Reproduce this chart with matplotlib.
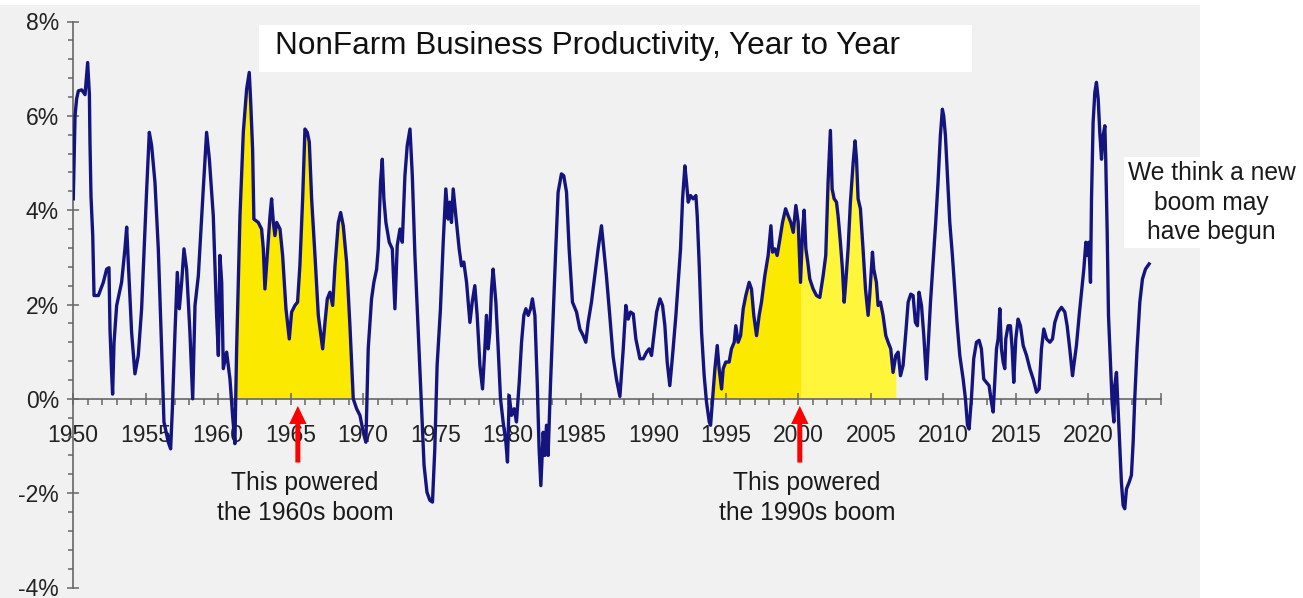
import matplotlib
matplotlib.use("Agg")
import matplotlib.pyplot as plt
from matplotlib import font_manager
from matplotlib.patches import Rectangle
from matplotlib.ticker import MultipleLocator, FuncFormatter
import numpy as np

# quarterly-ish readings of y/y nonfarm business productivity (%)
years = np.array([
    1950.02, 1950.14, 1950.25, 1950.37, 1950.6, 1950.83, 1951.01, 1951.13, 1951.17, 1951.24,
    1951.36, 1951.45, 1951.75, 1952.09, 1952.32, 1952.48, 1952.55, 1952.66, 1952.73, 1952.83,
    1953.01, 1953.35, 1953.58, 1953.70, 1953.81, 1954.04, 1954.27, 1954.50, 1954.73, 1955.08,
    1955.26, 1955.42, 1955.65, 1955.88, 1956.11, 1956.27, 1956.57, 1956.73, 1956.85, 1957.03,
    1957.19, 1957.33, 1957.49, 1957.65, 1957.83, 1958.06, 1958.25, 1958.41, 1958.64, 1958.98,
    1959.21, 1959.40, 1959.67, 1959.90, 1960.02, 1960.13, 1960.25, 1960.36, 1960.59, 1960.82,
    1961.00, 1961.16, 1961.28, 1961.51, 1961.74, 1961.97, 1962.15, 1962.24, 1962.38, 1962.47,
    1962.77, 1963.00, 1963.12, 1963.23, 1963.39, 1963.58, 1963.69, 1963.81, 1963.92, 1964.04,
    1964.27, 1964.45, 1964.68, 1964.91, 1965.07, 1965.30, 1965.48, 1965.64, 1965.83, 1965.99,
    1966.15, 1966.29, 1966.45, 1966.68, 1966.91, 1967.21, 1967.37, 1967.53, 1967.71, 1967.90,
    1968.06, 1968.29, 1968.45, 1968.63, 1968.86, 1969.09, 1969.32, 1969.55, 1969.78, 1970.01,
    1970.19, 1970.35, 1970.58, 1970.74, 1970.93, 1971.04, 1971.20, 1971.32, 1971.43, 1971.57,
    1971.80, 1972.01, 1972.19, 1972.35, 1972.54, 1972.70, 1972.88, 1973.04, 1973.23, 1973.39,
    1973.57, 1973.80, 1974.00, 1974.20, 1974.40, 1974.60, 1974.78, 1974.94, 1975.10, 1975.33,
    1975.52, 1975.70, 1975.86, 1975.98, 1976.09, 1976.21, 1976.39, 1976.62, 1976.78, 1976.94,
    1977.13, 1977.36, 1977.52, 1977.70, 1977.86, 1978.05, 1978.23, 1978.39, 1978.50, 1978.62,
    1978.73, 1978.85, 1978.96, 1979.15, 1979.31, 1979.47, 1979.65, 1979.84, 1979.95, 1980.07,
    1980.23, 1980.41, 1980.57, 1980.76, 1980.92, 1981.08, 1981.22, 1981.38, 1981.54, 1981.67,
    1981.84, 1982.00, 1982.13, 1982.25, 1982.41, 1982.52, 1982.64, 1982.75, 1982.92, 1983.10,
    1983.28, 1983.44, 1983.67, 1983.83, 1984.02, 1984.20, 1984.43, 1984.71, 1984.94, 1985.17,
    1985.35, 1985.51, 1985.74, 1985.97, 1986.20, 1986.43, 1986.59, 1986.77, 1987.00, 1987.23,
    1987.46, 1987.70, 1987.93, 1988.11, 1988.27, 1988.43, 1988.62, 1988.80, 1989.08, 1989.31,
    1989.54, 1989.72, 1989.88, 1990.04, 1990.23, 1990.46, 1990.64, 1990.80, 1990.96, 1991.14,
    1991.33, 1991.56, 1991.72, 1991.88, 1992.02, 1992.18, 1992.29, 1992.41, 1992.57, 1992.75,
    1992.94, 1993.03, 1993.17, 1993.33, 1993.51, 1993.67, 1993.86, 1993.95, 1994.09, 1994.25,
    1994.41, 1994.54, 1994.71, 1994.82, 1995.00, 1995.23, 1995.39, 1995.58, 1995.69, 1995.85,
    1996.02, 1996.20, 1996.38, 1996.61, 1996.77, 1996.93, 1997.12, 1997.30, 1997.46, 1997.69,
    1997.92, 1998.11, 1998.22, 1998.38, 1998.54, 1998.73, 1998.91, 1999.12, 1999.30, 1999.48,
    1999.65, 1999.83, 1999.99, 2000.15, 2000.30, 2000.40, 2000.52, 2000.65, 2000.79, 2001.02,
    2001.25, 2001.48, 2001.71, 2001.89, 2002.05, 2002.21, 2002.33, 2002.47, 2002.63, 2002.74,
    2002.90, 2003.04, 2003.16, 2003.27, 2003.43, 2003.59, 2003.78, 2003.91, 2004.01, 2004.12,
    2004.28, 2004.46, 2004.63, 2004.81, 2004.92, 2005.11, 2005.20, 2005.38, 2005.50, 2005.66,
    2005.84, 2006.03, 2006.19, 2006.37, 2006.53, 2006.72, 2006.88, 2007.04, 2007.22, 2007.41,
    2007.57, 2007.75, 2007.91, 2008.07, 2008.21, 2008.32, 2008.49, 2008.65, 2008.83, 2008.94,
    2009.11, 2009.29, 2009.47, 2009.63, 2009.79, 2009.93, 2010.02, 2010.14, 2010.28, 2010.44,
    2010.62, 2010.78, 2010.94, 2011.13, 2011.36, 2011.52, 2011.66, 2011.77, 2011.93, 2012.09,
    2012.28, 2012.46, 2012.62, 2012.78, 2012.96, 2013.15, 2013.31, 2013.43, 2013.54, 2013.66,
    2013.77, 2013.89, 2014.00, 2014.12, 2014.23, 2014.30, 2014.46, 2014.62, 2014.74, 2014.85,
    2014.99, 2015.15, 2015.31, 2015.50, 2015.73, 2015.96, 2016.19, 2016.42, 2016.60, 2016.76,
    2016.92, 2017.11, 2017.34, 2017.52, 2017.68, 2017.91, 2018.14, 2018.37, 2018.53, 2018.71,
    2018.90, 2018.99, 2019.17, 2019.36, 2019.52, 2019.68, 2019.82, 2019.91, 2020.02, 2020.14,
    2020.21, 2020.32, 2020.44, 2020.55, 2020.67, 2020.78, 2020.90, 2021.01, 2021.13, 2021.19,
    2021.29, 2021.38, 2021.52, 2021.63, 2021.75, 2021.81, 2021.93, 2022.04, 2022.16, 2022.27,
    2022.39, 2022.50, 2022.62, 2022.80, 2022.96, 2023.08, 2023.19, 2023.35, 2023.54, 2023.72,
    2023.93, 2024.18])

productivity = np.array([
    4.24, 6.00, 6.36, 6.53, 6.55, 6.45, 7.13, 6.45, 5.44, 4.30,
    3.46, 2.19, 2.19, 2.47, 2.75, 2.78, 1.48, 0.56, 0.10, 1.20,
    1.98, 2.47, 3.18, 3.64, 2.90, 1.41, 0.53, 0.92, 1.91, 4.45,
    5.65, 5.37, 4.59, 3.18, 1.06, -0.49, -0.92, -1.06, -0.21, 1.41,
    2.68, 1.91, 2.47, 3.18, 2.75, 1.41, 0.00, 1.98, 2.61, 4.45,
    5.65, 5.08, 3.88, 1.77, 0.92, 3.04, 2.47, 0.64, 0.99, 0.42,
    -0.35, -0.95, 1.06, 3.88, 5.65, 6.57, 6.92, 6.36, 5.30, 3.81,
    3.74, 3.60, 3.18, 2.33, 3.04, 3.88, 4.24, 3.74, 3.46, 3.74,
    3.60, 3.04, 1.91, 1.27, 1.84, 1.98, 2.05, 2.82, 4.24, 5.72,
    5.65, 5.44, 4.24, 3.04, 1.77, 1.06, 1.62, 2.12, 2.26, 1.98,
    2.82, 3.74, 3.95, 3.67, 2.90, 1.55, 0.00, -0.21, -0.35, -0.71,
    -0.92, 1.06, 2.12, 2.47, 2.75, 3.18, 4.59, 5.08, 4.24, 3.74,
    3.32, 3.18, 1.91, 3.25, 3.60, 3.32, 4.73, 5.37, 5.72, 4.73,
    3.04, 1.41, 0.00, -1.41, -1.98, -2.15, -2.19, -1.06, 0.71, 1.91,
    3.32, 4.45, 3.81, 4.17, 3.74, 4.45, 3.88, 3.18, 2.82, 2.90,
    2.47, 1.62, 2.05, 2.40, 1.77, 0.71, 0.21, 1.06, 1.77, 1.06,
    1.41, 2.33, 2.75, 2.05, 1.06, 0.00, -0.49, -0.92, -1.34, 0.07,
    -0.35, -0.21, -0.49, 0.35, 1.20, 1.77, 1.91, 1.77, 1.91, 2.12,
    1.77, 0.35, -1.06, -1.84, -0.71, -1.20, -0.56, -1.20, 0.35, 1.77,
    3.18, 4.38, 4.77, 4.73, 4.38, 3.18, 2.05, 1.84, 1.48, 1.34,
    1.20, 1.62, 2.05, 2.61, 3.18, 3.67, 3.18, 2.61, 1.77, 0.90,
    0.42, 0.05, 1.06, 1.98, 1.69, 1.84, 1.80, 1.27, 0.85, 0.85,
    0.99, 1.06, 0.92, 1.34, 1.84, 2.12, 1.98, 1.55, 0.78, 0.28,
    0.92, 1.77, 2.47, 3.18, 4.24, 4.94, 4.59, 4.17, 4.31, 4.24,
    4.31, 3.88, 2.82, 1.41, 0.49, -0.07, -0.49, -0.56, 0.00, 0.64,
    1.13, 0.64, 0.21, 0.64, 0.78, 0.78, 1.06, 1.20, 1.55, 1.20,
    1.34, 1.91, 2.19, 2.47, 2.33, 1.77, 1.34, 1.77, 2.05, 2.61,
    3.04, 3.67, 3.11, 3.18, 3.04, 3.39, 3.74, 4.03, 3.88, 3.74,
    3.53, 4.10, 3.74, 2.47, 3.60, 4.00, 3.18, 2.90, 2.54, 2.33,
    2.19, 2.15, 2.61, 3.04, 4.59, 5.69, 4.45, 4.24, 4.17, 3.88,
    3.32, 2.75, 2.05, 2.47, 3.18, 4.17, 5.01, 5.47, 5.08, 4.24,
    4.03, 3.18, 2.33, 1.77, 2.19, 3.11, 2.75, 2.47, 1.98, 2.05,
    1.77, 1.34, 1.20, 1.06, 0.56, 0.92, 0.99, 0.49, 0.71, 1.41,
    2.05, 2.22, 2.19, 1.62, 1.55, 2.26, 1.98, 1.34, 0.42, 1.06,
    2.05, 2.90, 3.74, 4.59, 5.58, 6.14, 6.00, 5.58, 4.73, 3.74,
    3.04, 2.33, 1.62, 0.92, 0.42, 0.00, -0.56, -0.64, 0.00, 0.85,
    1.20, 1.24, 1.06, 0.42, 0.35, 0.28, -0.07, -0.28, 0.35, 1.06,
    1.27, 1.91, 1.06, 0.78, 0.64, 1.27, 1.55, 1.55, 1.06, 0.35,
    1.27, 1.69, 1.55, 1.13, 0.92, 0.64, 0.42, 0.14, 0.21, 1.06,
    1.48, 1.27, 1.20, 1.27, 1.62, 1.84, 1.94, 1.84, 1.55, 1.06,
    0.49, 0.71, 1.13, 1.77, 2.26, 2.75, 3.32, 3.04, 3.32, 2.47,
    4.24, 5.86, 6.50, 6.71, 6.36, 5.65, 5.08, 5.58, 5.79, 5.08,
    3.53, 1.77, 0.71, -0.07, -0.49, 0.28, 0.56, -0.21, -1.06, -1.77,
    -2.26, -2.33, -1.91, -1.77, -1.62, -0.92, 0.00, 1.06, 2.05, 2.54,
    2.75, 2.86])

year_labels = [1950, 1955, 1960, 1965, 1970, 1975, 1980, 1985, 1990, 1995,
               2000, 2005, 2010, 2015, 2020]

boom_60s = (1961.1, 1969.4)
boom_90s = (1994.0, 2000.15)
boom_00s = (2000.15, 2006.8)
arrow_years = [1965.5, 2000.1]
arrow_notes = ["This powered\nthe 1960s boom", "This powered\nthe 1990s boom"]
note_years = [1966.0, 2000.6]

title = "NonFarm Business Productivity, Year to Year"
side_note = "We think a new\nboom may\nhave begun"

installed = {f.name for f in font_manager.fontManager.ttflist}
title_font = "Liberation Sans Narrow" if "Liberation Sans Narrow" in installed else "Liberation Sans"
plt.rcParams["font.family"] = ["Liberation Sans", "DejaVu Sans"]

W, H = 1303, 598
fig = plt.figure(figsize=(W / 100, H / 100), dpi=100)
fig.patch.set_facecolor("white")

# grey chart area behind the plot
fig.patches.append(Rectangle((0, 0), 1200 / W, 593 / H, transform=fig.transFigure,
                             facecolor="#f1f1f1", edgecolor="none", zorder=-2))

ax = fig.add_axes([73 / W, 10.5 / H, 1088 / W, 566 / H])
ax.set_facecolor("none")
ax.set_xlim(1950, 2025)
ax.set_ylim(-4, 8)

fill_kw = dict(interpolate=True, linewidth=0, zorder=1)
m = (years >= boom_60s[0]) & (years <= boom_60s[1]) & (productivity > 0)
ax.fill_between(years, productivity, 0, where=m, color="#fbea00", **fill_kw)
m = (years >= boom_90s[0]) & (years <= boom_90s[1]) & (productivity > 0)
ax.fill_between(years, productivity, 0, where=m, color="#fbea00", **fill_kw)
m = (years >= boom_00s[0]) & (years <= boom_00s[1]) & (productivity > 0)
ax.fill_between(years, productivity, 0, where=m, color="#fff53a", **fill_kw)

ax.plot(years, productivity, color="#14147f", lw=2.4, zorder=3, solid_joinstyle="round")

for sp in ["top", "right"]:
    ax.spines[sp].set_visible(False)
ax.spines["bottom"].set_position(("data", 0))
for sp in ["bottom", "left"]:
    ax.spines[sp].set_color("#666666")
    ax.spines[sp].set_linewidth(1.2)
    ax.spines[sp].set_zorder(2)

ax.xaxis.set_major_locator(MultipleLocator(5))
ax.xaxis.set_minor_locator(MultipleLocator(1))
ax.yaxis.set_major_locator(MultipleLocator(2))
ax.yaxis.set_minor_locator(MultipleLocator(0.4))
ax.xaxis.set_major_formatter(FuncFormatter(lambda v, p: f"{int(round(v))}" if int(round(v)) in year_labels else ""))
ax.yaxis.set_major_formatter(FuncFormatter(lambda v, p: f"{v:.0f}%"))

ax.tick_params(axis="x", which="major", direction="inout", length=8, width=1.1,
               color="#666666", labelsize=16.5, labelcolor="#222222", pad=14)
ax.tick_params(axis="x", which="minor", direction="out", length=4.3, width=1.1, color="#666666")
ax.tick_params(axis="y", which="major", direction="inout", length=8, width=1.1,
               color="#666666", labelsize=16.5, labelcolor="#222222", pad=6)
ax.tick_params(axis="y", which="minor", direction="out", length=3.6, width=1.1, color="#666666")

for xa, note, xn in zip(arrow_years, arrow_notes, note_years):
    ax.annotate("", xy=(xa, -0.15), xytext=(xa, -1.35),
                arrowprops=dict(facecolor="#ff0000", edgecolor="none", width=3.6,
                                headwidth=12.5, headlength=13, shrink=0), zorder=4)
    ax.text(xn, -2.1, note, ha="center", va="center", fontsize=17.7,
            color="#1a1a1a", linespacing=1.3)

ax.text(2028.5, 4.16, side_note, ha="center", va="center", fontsize=17.7,
        color="#1a1a1a", linespacing=1.3, clip_on=False, zorder=6,
        bbox=dict(facecolor="white", edgecolor="none", pad=3))

# white title box
fig.patches.append(Rectangle((259 / W, 1 - 72 / H), 713 / W, 47 / H, transform=fig.transFigure,
                             facecolor="white", edgecolor="none", zorder=1))
fig.text(275 / W, 1 - 46 / H, title, ha="left", va="center", fontsize=22.7,
         family=[title_font, "DejaVu Sans"], color="#111111", zorder=5)

fig.savefig("out.png", dpi=100, facecolor=fig.get_facecolor())
